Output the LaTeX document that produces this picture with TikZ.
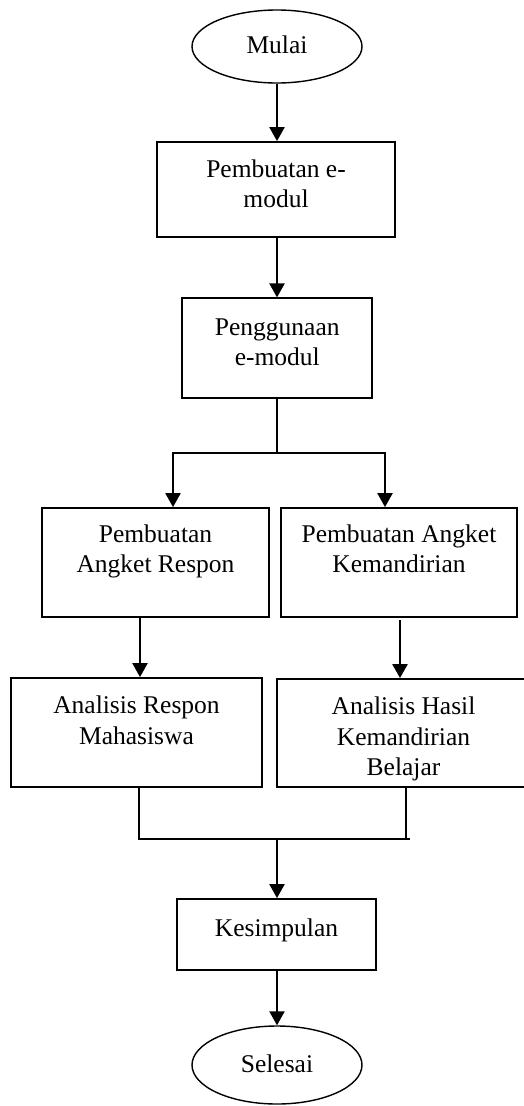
\documentclass[tikz,border=0pt]{standalone}
\usepackage{fontspec}
\setmainfont{Liberation Serif}
\usetikzlibrary{arrows.meta,shapes.geometric}
\tikzset{
  box/.style={draw, line width=1.8pt, inner sep=0pt, rectangle},
  oval/.style={draw, line width=1.4pt, ellipse, inner sep=0pt},
  txt/.style={anchor=base, inner sep=0pt, font=\fontsize{25.5}{30.5}\selectfont},
  ln/.style={line width=2pt},
  arr/.style={line width=2.3pt, -{Triangle[length=14pt,width=15pt]}}
}
\newcommand{\ml}[1]{\begin{tabular}[t]{@{}c@{}}#1\end{tabular}}
\begin{document}
\begin{tikzpicture}[x=1pt,y=-1pt]
\useasboundingbox (0,0) rectangle (523,1106);
% shapes
\node[oval, minimum width=170pt, minimum height=73pt] (mulai) at (277,46.5) {};
\node[box, minimum width=238pt, minimum height=95pt] (b1) at (276,189.5) {};
\node[box, minimum width=190pt, minimum height=100pt] (b2) at (277.3,348.3) {};
\node[box, minimum width=227pt, minimum height=109pt] (b3) at (155.5,562.5) {};
\node[box, minimum width=236pt, minimum height=109pt] (b4) at (399,562.5) {};
\node[box, minimum width=251pt, minimum height=109pt] (b5) at (136.5,732.5) {};
\node[box, minimum width=253pt, minimum height=108pt] (b6) at (403.5,733) {};
\node[box, minimum width=199pt, minimum height=71pt] (b7) at (276.5,934.5) {};
\node[oval, minimum width=170pt, minimum height=78pt] (selesai) at (277,1065) {};
% texts
\node[txt] (tm) at (277,53.5) {Mulai};
\node[txt] (t1) at (276,177) {\ml{Pembuatan e-\\modul}};
\node[txt] (t2) at (277.3,335) {\ml{Penggunaan\\e-modul}};
\node[txt] (t3) at (155.5,542) {\ml{Pembuatan\\Angket Respon}};
\node[txt] (t4) at (399,542) {\ml{Pembuatan Angket\\Kemandirian}};
\node[txt] (t5) at (136.5,713.5) {\ml{Analisis Respon\\Mahasiswa}};
\node[txt] (t6) at (403.5,714.5) {\ml{Analisis Hasil\\Kemandirian\\Belajar}};
\node[txt] (t7) at (276.5,936) {Kesimpulan};
\node[txt] (ts) at (277,1072) {Selesai};
% connectors
\draw[arr] (mulai.south) -- (mulai.south |- b1.north);
\draw[arr] (mulai.south |- b1.south) -- (mulai.south |- b2.north);
\coordinate (spL) at (173,453);
\coordinate (spR) at (385,453);
\draw[ln] (b2.south) -- (b2.south |- spL);
\draw[arr, line join=miter] (b2.south |- spL) -- (spL) -- (spL |- b3.north);
\draw[arr, line join=miter] (b2.south |- spR) -- (spR) -- (spR |- b4.north);
\coordinate (a3) at (140,617);
\coordinate (a4) at (400,620);
\draw[arr] (a3) -- (a3 |- b5.north);
\draw[arr] (a4) -- (a4 |- b6.north);
\coordinate (m5) at (139,787);
\coordinate (m6) at (406,787);
\coordinate (mR) at (410,839);
\draw[ln, line join=miter] (m5) -- (m5 |- mR) -- (mR);
\draw[ln] (m6) -- (m6 |- mR);
\coordinate (mC) at (277,839);
\draw[arr] (mC) -- (mC |- b7.north);
\draw[arr] (mC |- b7.south) -- (mC |- selesai.north);
\end{tikzpicture}
\end{document}
